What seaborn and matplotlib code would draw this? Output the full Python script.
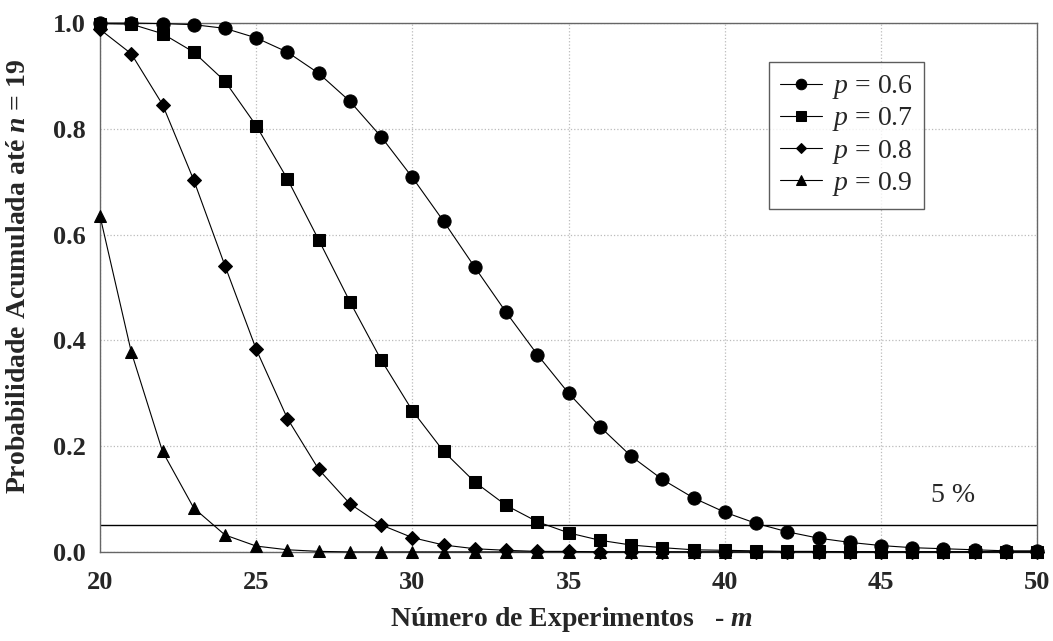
import numpy as np
import pandas as pd
import matplotlib
matplotlib.use("Agg")
import matplotlib.pyplot as plt
import seaborn as sns

m_values = list(range(20, 51))

p06 = [1.000, 1.000, 0.999, 0.997, 0.990, 0.972, 0.945, 0.905, 0.852, 0.785,
       0.708, 0.625, 0.538, 0.453, 0.373, 0.300, 0.237, 0.181, 0.137, 0.102,
       0.075, 0.054, 0.038, 0.026, 0.018, 0.012, 0.008, 0.006, 0.004, 0.002, 0.002]
p07 = [0.999, 0.998, 0.980, 0.945, 0.890, 0.806, 0.705, 0.590, 0.473, 0.363,
       0.267, 0.190, 0.132, 0.088, 0.057, 0.036, 0.022, 0.013, 0.008, 0.004,
       0.003, 0.002, 0.001, 0.001, 0.000, 0.000, 0.000, 0.000, 0.000, 0.000, 0.000]
p08 = [0.988, 0.942, 0.846, 0.703, 0.541, 0.383, 0.252, 0.156, 0.091, 0.051,
       0.027, 0.013, 0.006, 0.003, 0.001, 0.001, 0.000, 0.000, 0.000, 0.000,
       0.000, 0.000, 0.000, 0.000, 0.000, 0.000, 0.000, 0.000, 0.000, 0.000, 0.000]
p09 = [0.635, 0.378, 0.190, 0.083, 0.032, 0.011, 0.004, 0.001, 0.000, 0.000,
       0.000, 0.000, 0.000, 0.000, 0.000, 0.000, 0.000, 0.000, 0.000, 0.000,
       0.000, 0.000, 0.000, 0.000, 0.000, 0.000, 0.000, 0.000, 0.000, 0.000, 0.000]

series_labels = ["$\\mathit{p}$ = 0.6", "$\\mathit{p}$ = 0.7",
                 "$\\mathit{p}$ = 0.8", "$\\mathit{p}$ = 0.9"]
threshold = 0.05
x_ticks = [20, 25, 30, 35, 40, 45, 50]
y_ticks = [0.0, 0.2, 0.4, 0.6, 0.8, 1.0]

sns.set_style("white")
plt.rcParams["font.family"] = ["Liberation Serif", "DejaVu Serif"]
plt.rcParams["mathtext.fontset"] = "custom"
plt.rcParams["mathtext.rm"] = "Liberation Serif"
plt.rcParams["mathtext.it"] = "Liberation Serif:italic"
plt.rcParams["mathtext.bf"] = "Liberation Serif:bold"
plt.rcParams["mathtext.bfit"] = "Liberation Serif:italic:bold"

fig = plt.figure(figsize=(10.53, 6.41), dpi=100)
ax = fig.add_axes([0.095, 0.139, 0.890, 0.825])

styles = [("o", 9.5), ("s", 8.5), ("D", 7), ("^", 8.5)]
for vals, lab, (mk, ms) in zip([p06, p07, p08, p09], series_labels, styles):
    df = pd.DataFrame({"m": m_values, "prob": vals})
    sns.lineplot(data=df, x="m", y="prob", ax=ax, color="black", linewidth=0.8,
                 marker=mk, markersize=ms, markeredgecolor="black",
                 markerfacecolor="black", label=lab, clip_on=False, zorder=3)

ax.axhline(threshold, color="black", linewidth=1.0, zorder=2)
ax.text(47.3, 0.106, "5 %", fontsize=20, ha="center", va="center")

ax.set_xlim(20, 50)
ax.set_ylim(0, 1.0)
ax.set_xticks(x_ticks)
ax.set_yticks(y_ticks)
ax.set_xticklabels([str(t) for t in x_ticks], fontsize=19, fontweight="bold")
ax.set_yticklabels([f"{t:.1f}" for t in y_ticks], fontsize=19, fontweight="bold")
ax.tick_params(axis="both", length=0, pad=10)
ax.tick_params(axis="x", pad=14)

ax.grid(True, linestyle=":", color="#bbbbbb", linewidth=0.9)
for s in ax.spines.values():
    s.set_color("#666666")
    s.set_linewidth(1.0)

ax.set_xlabel("Número de Experimentos   - $\\mathbfit{m}$", fontsize=20,
              fontweight="bold")
ax.xaxis.set_label_coords(0.503, -0.100)
ax.set_ylabel("Probabilidade Acumulada até $\\mathbfit{n}$ = 19", fontsize=20,
              fontweight="bold")
ax.yaxis.set_label_coords(-0.074, 0.522)

leg = ax.legend(loc="upper left", bbox_to_anchor=(0.714, 0.926), fontsize=20,
                frameon=True, fancybox=False, edgecolor="#333333",
                handlelength=1.5, handletextpad=0.35, labelspacing=0.15,
                borderpad=0.4, borderaxespad=0, numpoints=1, markerscale=0.8)
leg.get_frame().set_linewidth(1.0)

fig.savefig("out.png", dpi=100)
